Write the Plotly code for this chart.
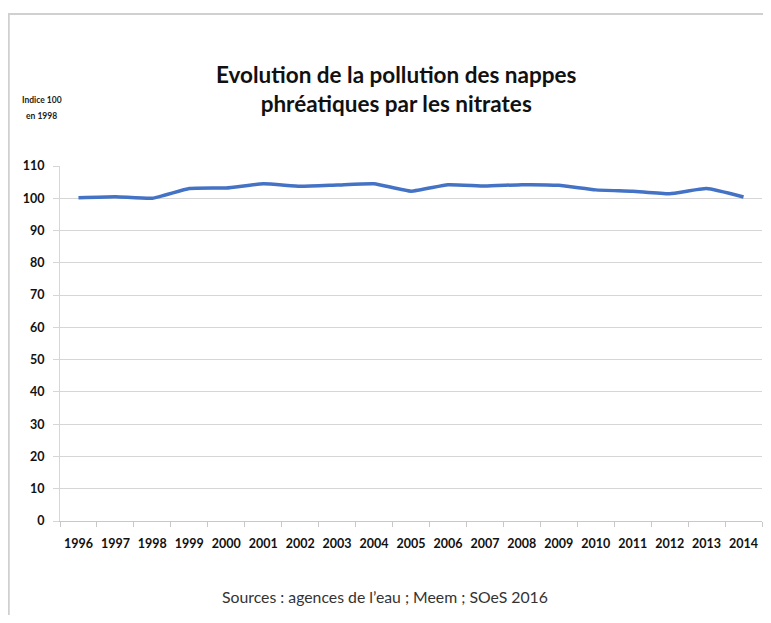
import plotly.graph_objects as go

# Indice 100 en 1998
years = [str(y) for y in range(1996, 2015)]
indice = [100.2, 100.5, 100.0, 103.0, 103.2, 104.5, 103.7, 104.1, 104.5, 102.2,
          104.2, 103.8, 104.2, 104.0, 102.6, 102.2, 101.4, 103.0, 100.4]
y_ticks = list(range(0, 111, 10))

FONT = "Lato"

# page body has an 8px margin, so the figure is a bit smaller than the window
fig = go.Figure()
fig.add_trace(go.Scatter(
    x=years, y=indice, mode="lines",
    line=dict(color="#4472c4", width=3.5, shape="spline", smoothing=0.4),
    showlegend=False,
))

fig.update_layout(
    width=763, height=607,
    margin=dict(l=52, r=9, t=158, b=94, autoexpand=False),
    paper_bgcolor="white", plot_bgcolor="white",
    font=dict(family=FONT, color="#1a1a1a"),
)

fig.update_xaxes(
    type="category", range=[-0.5, 18.5], tickangle=0, automargin=False,
    showgrid=False, showline=True, linecolor="#c8c8c8", linewidth=1,
    ticks="outside", tickson="boundaries", ticklen=5, tickcolor="#c8c8c8",
    ticklabelstandoff=11,
    tickfont=dict(family=FONT, size=12.5, weight="bold", color="#111111"),
)
fig.update_yaxes(
    range=[0, 110], tickvals=y_ticks, automargin=False,
    showgrid=True, gridcolor="#d6d6d6", gridwidth=1,
    showline=True, linecolor="#d6d6d6", linewidth=1,
    zeroline=False, ticks="outside", ticklen=6, tickcolor="#d6d6d6",
    ticklabelstandoff=6,
    tickfont=dict(family=FONT, size=12.5, weight="bold", color="#111111"),
)

# title
fig.add_annotation(
    text="Evolution de la pollution des nappes<br>phréatiques par les nitrates",
    xref="paper", yref="paper", x=0.479, y=1.218,
    xanchor="center", yanchor="middle", showarrow=False,
    font=dict(family=FONT, size=22.5, weight="bold", color="#111111"),
)
# axis caption
for txt, yy in [("Indice 100", 1.186), ("en 1998", 1.141)]:
    fig.add_annotation(
        text=txt, xref="paper", yref="paper",
        x=-0.026, y=yy, xanchor="center", yanchor="middle", showarrow=False,
        font=dict(family=FONT, size=8.5, weight="bold", color="#222222"),
    )
# source
fig.add_annotation(
    text="Sources : agences de l’eau ; Meem ; SOeS 2016",
    xref="paper", yref="paper", x=0.463, y=-0.214,
    xanchor="center", yanchor="middle", showarrow=False,
    font=dict(family=FONT, size=15.8, color="#333333"),
)
# frame of the chart (bottom edge lies outside the picture)
fig.add_shape(
    type="rect", xref="paper", yref="paper",
    x0=-0.073, x1=1.006, y0=-0.40, y1=1.428,
    line=dict(color="#d0d0d0", width=2), fillcolor="rgba(0,0,0,0)",
)

fig.write_html("out.html")
